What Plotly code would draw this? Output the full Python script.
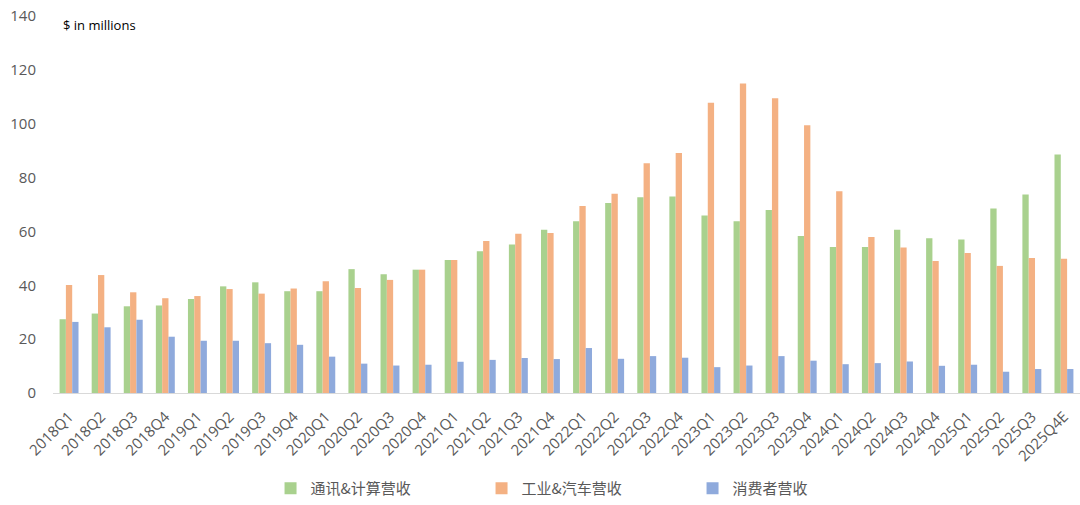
import plotly.graph_objects as go

quarters = ["2018Q1","2018Q2","2018Q3","2018Q4","2019Q1","2019Q2","2019Q3","2019Q4",
            "2020Q1","2020Q2","2020Q3","2020Q4","2021Q1","2021Q2","2021Q3","2021Q4",
            "2022Q1","2022Q2","2022Q3","2022Q4","2023Q1","2023Q2","2023Q3","2023Q4",
            "2024Q1","2024Q2","2024Q3","2024Q4","2025Q1","2025Q2","2025Q3","2025Q4E"]

comm_computing = [27.4, 29.5, 32.2, 32.5, 34.9, 39.6, 41.1, 37.8,
                  37.8, 46.0, 44.1, 45.8, 49.4, 52.6, 55.1, 60.6,
                  63.8, 70.6, 72.7, 73.0, 65.9, 63.8, 68.0, 58.3,
                  54.2, 54.2, 60.6, 57.5, 57.0, 68.5, 73.7, 88.6]

industrial_auto = [40.1, 43.8, 37.4, 35.2, 36.0, 38.6, 36.9, 38.8,
                   41.5, 39.0, 42.0, 45.8, 49.4, 56.4, 59.1, 59.4,
                   69.4, 74.0, 85.3, 89.1, 107.8, 114.9, 109.5, 99.4,
                   74.9, 57.9, 54.0, 49.0, 52.0, 47.2, 50.1, 49.9]

consumer = [26.4, 24.4, 27.2, 20.9, 19.4, 19.4, 18.5, 17.9,
            13.5, 10.9, 10.2, 10.5, 11.6, 12.3, 13.0, 12.6,
            16.7, 12.7, 13.7, 13.1, 9.6, 10.2, 13.7, 12.0,
            10.7, 11.1, 11.7, 10.1, 10.5, 7.9, 8.9, 8.9]

series_names = ["通讯&计算营收", "工业&汽车营收", "消费者营收"]
colors = ["#A9D18E", "#F4B183", "#8FAADC"]

fig = go.Figure()
for name, vals, c in zip(series_names, [comm_computing, industrial_auto, consumer], colors):
    fig.add_trace(go.Bar(x=quarters, y=vals, name=name,
                         marker=dict(color=c, line=dict(width=0))))

font_family = "Open Sans, Noto Sans CJK SC, sans-serif"

fig.update_layout(
    width=1080, height=505,
    margin=dict(l=53, r=0, t=16, b=111),
    paper_bgcolor="white", plot_bgcolor="white",
    barmode="group", bargap=0.41, bargroupgap=0,
    font=dict(family=font_family, color="#595959", size=15),
    showlegend=True,
    legend=dict(orientation="h", x=0.520, xanchor="center", y=-0.21, yanchor="top",
                yref="paper", font=dict(size=15, color="#595959",
                                        family="Noto Sans CJK SC, sans-serif"),
                entrywidth=166, itemwidth=30, traceorder="normal"),
    xaxis=dict(type="category", tickangle=-45, showline=True, linecolor="#D9D9D9",
               linewidth=1, showgrid=False, ticks="", ticklabelstandoff=8,
               tickfont=dict(size=15, color="#595959")),
    yaxis=dict(range=[0, 140], dtick=20, showgrid=False, zeroline=False, showline=False,
               ticks="", ticklabelstandoff=16, tickfont=dict(size=15, color="#595959")),
    annotations=[dict(text="$ in millions", xref="paper", yref="paper", x=0.0077, y=0.977,
                      xanchor="left", yanchor="middle", showarrow=False,
                      font=dict(size=13, color="#000000", family=font_family))],
)

fig.write_html("out.html")
